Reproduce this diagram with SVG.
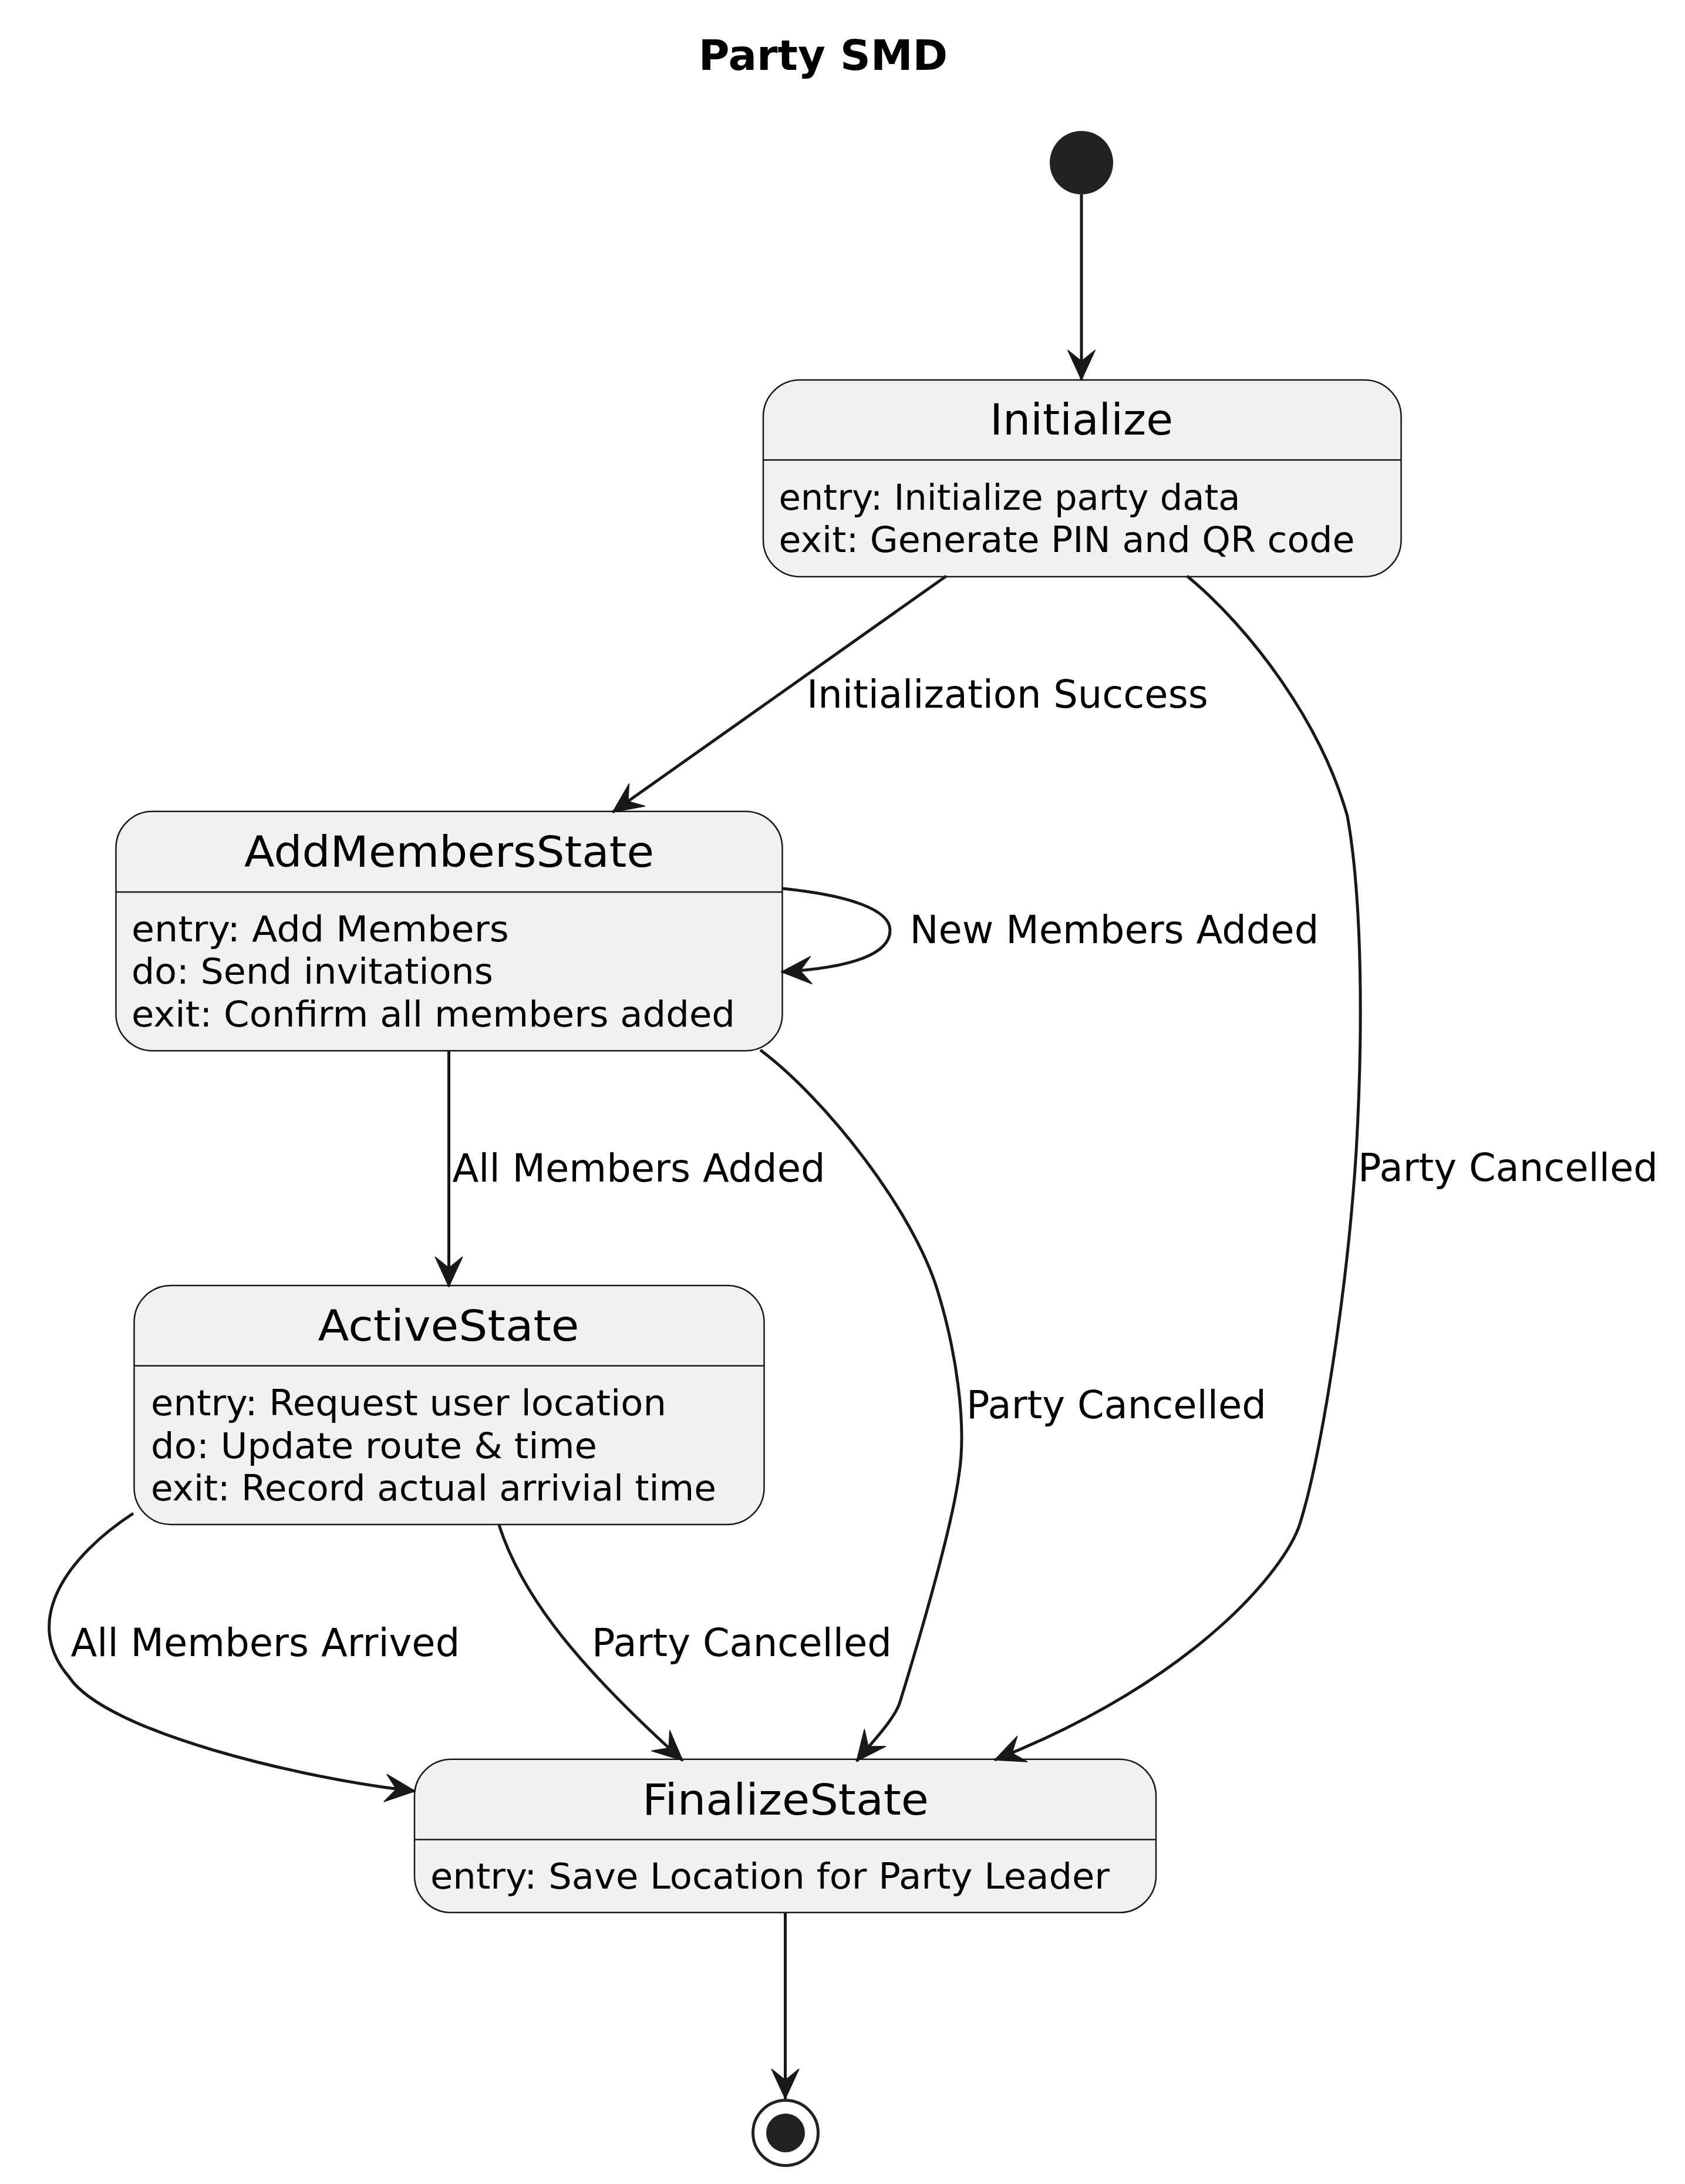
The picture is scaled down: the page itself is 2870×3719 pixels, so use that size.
<svg xmlns="http://www.w3.org/2000/svg" width="2870" height="3719" viewBox="0 0 2870 3719">
<style>
text{font-family:"DejaVu Sans","Liberation Sans",sans-serif;fill:#000}
.title{font-size:72px;font-weight:bold}
.name{font-size:73px}
.attr{font-size:61px}
.lbl{font-size:65.5px}
.box{fill:#F1F1F1;stroke:#181818;stroke-width:2.5}
.sep{stroke:#181818;stroke-width:2.5}
.edge{fill:none;stroke:#181818;stroke-width:5}
</style>
<defs>
<marker id="ah" markerUnits="userSpaceOnUse" viewBox="-56 -26 58 52" refX="0" refY="0" markerWidth="58" markerHeight="52" orient="auto">
<path d="M0,0 L-51,-23.5 L-32,0 L-51,23.5 Z" fill="#181818" stroke="#181818" stroke-width="1.5" stroke-linejoin="miter"/>
</marker>
</defs>
<rect width="2870" height="3719" fill="#FFFFFF"/>
<text class="title" x="1402" y="119" text-anchor="middle">Party SMD</text>

<g id="start"><circle cx="1842" cy="277" r="54" fill="#222222"/></g>

<g id="Initialize">
<rect class="box" x="1300" y="647" width="1086.5" height="335" rx="62.5" ry="62.5"/>
<line class="sep" x1="1300" y1="783.3" x2="2386.5" y2="783.3"/>
<text class="name" x="1842" y="740" text-anchor="middle" textLength="312" lengthAdjust="spacingAndGlyphs">Initialize</text>
<text class="attr" x="1326.5" y="868" textLength="786" lengthAdjust="spacingAndGlyphs">entry: Initialize party data</text>
<text class="attr" x="1326.5" y="940" textLength="981" lengthAdjust="spacingAndGlyphs">exit: Generate PIN and QR code</text>
</g>

<g id="AddMembersState">
<rect class="box" x="197.5" y="1381.7" width="1135" height="407.6" rx="62.5" ry="62.5"/>
<line class="sep" x1="197.5" y1="1519" x2="1332.5" y2="1519"/>
<text class="name" x="765" y="1475.7" text-anchor="middle" textLength="698" lengthAdjust="spacingAndGlyphs">AddMembersState</text>
<text class="attr" x="224" y="1602.5" textLength="643" lengthAdjust="spacingAndGlyphs">entry: Add Members</text>
<text class="attr" x="224" y="1675" textLength="616" lengthAdjust="spacingAndGlyphs">do: Send invitations</text>
<text class="attr" x="224" y="1748" textLength="1028" lengthAdjust="spacingAndGlyphs">exit: Confirm all members added</text>
</g>

<g id="ActiveState">
<rect class="box" x="228.5" y="2189" width="1073" height="407" rx="62.5" ry="62.5"/>
<line class="sep" x1="228.5" y1="2325.7" x2="1301.5" y2="2325.7"/>
<text class="name" x="764" y="2282.7" text-anchor="middle" textLength="445" lengthAdjust="spacingAndGlyphs">ActiveState</text>
<text class="attr" x="257" y="2409.5" textLength="878" lengthAdjust="spacingAndGlyphs">entry: Request user location</text>
<text class="attr" x="257" y="2482.5" textLength="760" lengthAdjust="spacingAndGlyphs">do: Update route &amp; time</text>
<text class="attr" x="257" y="2555" textLength="963" lengthAdjust="spacingAndGlyphs">exit: Record actual arrivial time</text>
</g>

<g id="FinalizeState">
<rect class="box" x="706" y="2995.8" width="1263" height="261" rx="62.5" ry="62.5"/>
<line class="sep" x1="706" y1="3132.6" x2="1969" y2="3132.6"/>
<text class="name" x="1338" y="3090" text-anchor="middle" textLength="488" lengthAdjust="spacingAndGlyphs">FinalizeState</text>
<text class="attr" x="733" y="3215.5" textLength="1157" lengthAdjust="spacingAndGlyphs">entry: Save Location for Party Leader</text>
</g>

<g id="end">
<circle cx="1338" cy="3632" r="55.5" fill="#FFFFFF" stroke="#222222" stroke-width="5"/>
<circle cx="1338" cy="3632" r="33" fill="#222222"/>
</g>

<g id="connectors">
<path class="edge" marker-end="url(#ah)" d="M1842,331 L1842,647"/>
<path class="edge" marker-end="url(#ah)" d="M1611.7,981 L1043.5,1383"/>
<path class="edge" marker-end="url(#ah)" d="M2022,981 C2130,1070 2250,1230 2295,1390 C2320,1530 2322,1750 2310,1960 C2295,2200 2250,2480 2214,2595 C2190,2670 2040,2860 1694,2997"/>
<path class="edge" marker-end="url(#ah)" d="M1333,1513 C1450,1525 1516,1550 1516,1584 C1516,1625 1450,1648 1331,1655"/>
<path class="edge" marker-end="url(#ah)" d="M764.5,1789.5 L764.5,2191"/>
<path class="edge" marker-end="url(#ah)" d="M1295,1788 C1405,1870 1555,2060 1597,2198 C1630,2305 1647,2430 1633,2514 C1620,2610 1557,2820 1533,2898 C1524,2928 1482,2970 1459,2999"/>
<path class="edge" marker-end="url(#ah)" d="M850,2597 C885,2705 965,2820 1163,2998"/>
<path class="edge" marker-end="url(#ah)" d="M227,2577 C115,2650 35,2760 118,2856 C180,2950 520,3030 707,3050"/>
<path class="edge" marker-end="url(#ah)" d="M1337.5,3257 L1337.5,3574"/>
<text class="lbl" x="1374" y="1205">Initialization Success</text>
<text class="lbl" x="2313" y="2011">Party Cancelled</text>
<text class="lbl" x="1549.5" y="1606">New Members Added</text>
<text class="lbl" x="770.5" y="2012">All Members Added</text>
<text class="lbl" x="1646" y="2415">Party Cancelled</text>
<text class="lbl" x="120.5" y="2820">All Members Arrived</text>
<text class="lbl" x="1008" y="2820">Party Cancelled</text>
</g>
</svg>
